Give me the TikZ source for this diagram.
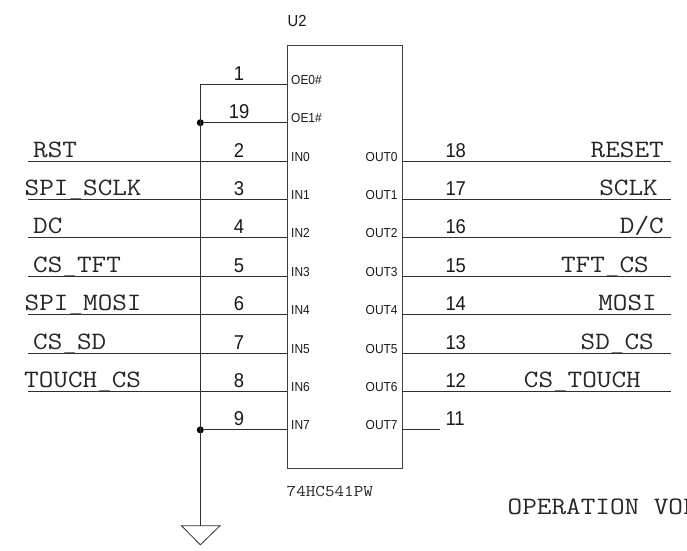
\documentclass[tikz,border=0pt]{standalone}
\usepackage{fontspec}
\setmainfont{Liberation Sans}
\newcommand{\cnm}[2]{\scalebox{1.135}[1]{\fontsize{#1}{#1}\selectfont\ttfamily #2}}
\newcommand{\snm}[2]{\scalebox{0.92}[1]{\fontsize{#1}{#1}\selectfont #2}}
\tikzset{
  wire/.style={line width=0.9pt,draw=black!82},
  pinnum/.style={inner sep=0pt,text=black!90},
  pinname/.style={inner sep=0pt,text=black!90},
  netname/.style={inner sep=0pt,text=black!85},
  junction/.style={circle,fill=black,inner sep=0pt,minimum size=7pt},
  chip/.style={draw=black!75,line width=1pt,inner sep=0pt,minimum width=115.3pt,minimum height=422.3pt}
}
\begin{document}
\begin{tikzpicture}[x=1pt,y=-1pt]
\useasboundingbox (0,0) rectangle (687,550);
\node[chip] (U) at (344.65,256.85) {};
\node[pinnum,anchor=base west] (ref) at (287.5,26) {\snm{16}{U2}};
\node[netname,anchor=base west] (part) at (286.5,496.3) {\cnm{16.4}{74HC541PW}};
\node[netname,anchor=base west] (note) at (507.5,514.5) {\cnm{25}{OPERATION VOL}};
% left-side pins
\foreach \k/\num/\pin/\lbl/\lx in {
 0/1/OE0\#//0, 1/19/OE1\#//0,
 2/2/IN0/RST/33, 3/3/IN1/SPI\_SCLK/24.5, 4/4/IN2/DC/33, 5/5/IN3/CS\_TFT/33,
 6/6/IN4/SPI\_MOSI/24.5, 7/7/IN5/CS\_SD/33, 8/8/IN6/TOUCH\_CS/24, 9/9/IN7//0}{
  \pgfmathsetmacro{\yy}{84.3+38.4*\k}
  \coordinate (L\k) at (287,\yy);
  \coordinate (B\k) at (200.3,\yy);
  \coordinate (F\k) at (28,\yy);
  \node[pinnum,anchor=base] (LN\k) at (239,\yy-4) {\snm{20}{\num}};
  \node[pinname,anchor=base west] (LP\k) at (291,\yy) {\snm{13}{\pin}};
  \ifx\lbl\empty\else
    \node[netname,anchor=base west] (LT\k) at (\lx,\yy-4) {\cnm{25}{\lbl}};
    \draw[wire] (F\k) -- (L\k);
  \fi
}
% right-side pins
\foreach \k/\num/\pin/\lbl/\rx in {
 2/18/OUT0/RESET/664, 3/17/OUT1/SCLK/658, 4/16/OUT2/D\slash C/664, 5/15/OUT3/TFT\_CS/649,
 6/14/OUT4/MOSI/657, 7/13/OUT5/SD\_CS/654, 8/12/OUT6/CS\_TOUCH/641}{
  \pgfmathsetmacro{\yy}{84.3+38.4*\k}
  \coordinate (R\k) at (402.3,\yy);
  \coordinate (G\k) at (671,\yy);
  \node[pinnum,anchor=base west] (RN\k) at (445.3,\yy-4) {\snm{20}{\num}};
  \node[pinname,anchor=base east] (RP\k) at (397.8,\yy) {\snm{13}{\pin}};
  \node[netname,anchor=base east] (RT\k) at (\rx,\yy-4) {\cnm{25}{\lbl}};
  \draw[wire] (R\k) -- (G\k);
}
\coordinate (R9) at (402.3,429.9);
\coordinate (G9) at (440.3,429.9);
\node[pinnum,anchor=base west] (RN9) at (445.3,425.9) {\snm{20}{11}};
\node[pinname,anchor=base east] (RP9) at (397.8,429.9) {\snm{13}{OUT7}};
\draw[wire] (R9) -- (G9);
% enable and ground net
\coordinate (gt) at (200.3,525.7);
\coordinate (gl) at (181.5,525.7);
\coordinate (gr) at (220,525.7);
\coordinate (ga) at (200.3,544.8);
\node[junction] (J1) at (B1) {};
\node[junction] (J9) at (B9) {};
\draw[wire] (L0) -- (B0) -- (gt);
\draw[wire] (J1) -- (L1);
\draw[wire] (J9) -- (L9);
\draw[wire,line width=0.8pt] (gl) -- (gr) -- (ga) -- cycle;
\end{tikzpicture}
\end{document}
